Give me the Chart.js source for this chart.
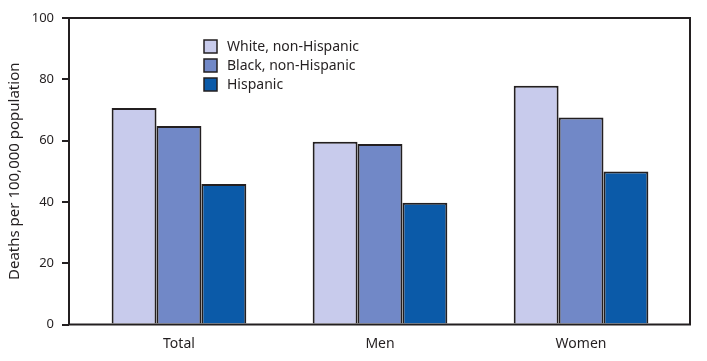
<!DOCTYPE html>
<html><head><meta charset="utf-8">
<script src="https://cdn.jsdelivr.net/npm/chart.js@4.4.1/dist/chart.umd.min.js"></script>
<style>html,body{margin:0;padding:0;background:#fff;}#wrap{width:707px;height:361px;}</style>
</head><body><div id="wrap"><canvas id="c" width="707" height="361"></canvas></div>
<script>
const categories = ["Total", "Men", "Women"];
const seriesNames = ["White, non-Hispanic", "Black, non-Hispanic", "Hispanic"];
const whiteValues = [70.6, 59.6, 77.9];
const blackValues = [64.8, 58.9, 67.5];
const hispanicValues = [45.8, 39.7, 49.9];
const yTicks = [0, 20, 40, 60, 80, 100];
const colors = ["#c8cbec", "#7188c7", "#0b5aa8"];
const ink = "#231f20";
const FONT = "'Noto Sans', sans-serif";

const seriesValues = [whiteValues, blackValues, hispanicValues];
const datasets = seriesValues.map((vals, i) => ({
  label: seriesNames[i],
  data: vals.map((v, j) => ({x: j, y: v})),
  backgroundColor: colors[i],
  borderColor: ink,
  borderWidth: 2,
  borderSkipped: 'bottom',
  barPercentage: 1.0,
  categoryPercentage: 0.67
}));

const framePlugin = {
  id: 'frame',
  afterDatasetsDraw(chart) {
    const {ctx, chartArea: a} = chart;
    ctx.save();
    ctx.strokeStyle = ink;
    ctx.lineWidth = 2;
    ctx.strokeRect(a.left, a.top, a.right - a.left, a.bottom - a.top);
    ctx.restore();
  },
  afterDraw(chart) {
    const {ctx, chartArea: a} = chart;
    ctx.save();
    ctx.font = "14px " + FONT;
    ctx.textBaseline = 'middle';
    chart.data.datasets.forEach((ds, i) => {
      const bx = a.left + 135, by = 40 + i * 19;
      ctx.fillStyle = ds.backgroundColor;
      ctx.fillRect(bx, by, 13, 13);
      ctx.strokeStyle = ink;
      ctx.lineWidth = 1.5;
      ctx.strokeRect(bx, by, 13, 13);
      ctx.fillStyle = ink;
      ctx.fillText(ds.label, bx + 23, by + 7);
    });
    ctx.restore();
  }
};

new Chart(document.getElementById('c'), {
  type: 'bar',
  data: {datasets},
  options: {
    responsive: false,
    animation: false,
    devicePixelRatio: 1,
    layout: {padding: {top: 18, right: 17, left: 0, bottom: 0}},
    plugins: {legend: {display: false}, tooltip: {enabled: false}},
    scales: {
      x: {
        type: 'linear',
        offset: false,
        min: -0.547,
        max: 2.542,
        afterBuildTicks: s => { s.ticks = categories.map((c, i) => ({value: i})); },
        afterFit: s => { s.height = 36.5; },
        grid: {display: false, drawTicks: false, offset: false},
        border: {display: false},
        ticks: {
          callback: v => categories[v] ?? '',
          color: ink,
          font: {family: FONT, size: 14},
          padding: 11,
          maxRotation: 0
        }
      },
      y: {
        min: 0, max: 100,
        afterBuildTicks: s => { s.ticks = yTicks.map(v => ({value: v})); },
        afterFit: s => { s.width = 69; },
        grid: {drawOnChartArea: false, drawTicks: true, tickLength: 7, color: ink, lineWidth: 2},
        border: {display: false},
        ticks: {color: ink, font: {family: FONT, size: 13}, padding: 8},
        title: {display: true, text: 'Deaths per 100,000 population', color: ink,
                font: {family: FONT, size: 15}, padding: {top: 6, bottom: 0}}
      }
    }
  },
  plugins: [framePlugin]
});
</script></body></html>
